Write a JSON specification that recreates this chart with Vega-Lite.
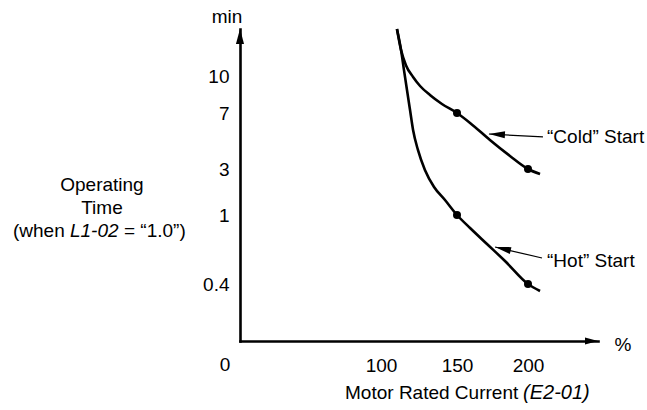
{
  "$schema": "https://vega.github.io/schema/vega-lite/v6.json",
  "width": 407,
  "height": 341,
  "autosize": "none",
  "padding": {"left": 240, "top": 0, "right": 0, "bottom": 69},
  "background": "white",
  "config": {
    "view": {"stroke": null},
    "font": "Liberation Sans",
    "text": {"font": "Liberation Sans", "fontSize": 19, "color": "black"}
  },
  "datasets": {
    "curves": [
      {"curve": "cold", "x": 110.5, "y": 20},
      {"curve": "cold", "x": 113.2, "y": 15.5},
      {"curve": "cold", "x": 116.4, "y": 12.3},
      {"curve": "cold", "x": 121.1, "y": 9.92},
      {"curve": "cold", "x": 125.7, "y": 9.19},
      {"curve": "cold", "x": 132.2, "y": 8.46},
      {"curve": "cold", "x": 140.1, "y": 7.73},
      {"curve": "cold", "x": 150, "y": 7},
      {"curve": "cold", "x": 159.2, "y": 6.29},
      {"curve": "cold", "x": 173.2, "y": 5.07},
      {"curve": "cold", "x": 187.3, "y": 3.93},
      {"curve": "cold", "x": 200, "y": 3},
      {"curve": "cold", "x": 208.6, "y": 2.78},
      {"curve": "hot", "x": 110.5, "y": 20},
      {"curve": "hot", "x": 113.2, "y": 15.5},
      {"curve": "hot", "x": 115.1, "y": 11.3},
      {"curve": "hot", "x": 117.1, "y": 8.86},
      {"curve": "hot", "x": 119.1, "y": 7.24},
      {"curve": "hot", "x": 121.1, "y": 5.79},
      {"curve": "hot", "x": 124.3, "y": 4.36},
      {"curve": "hot", "x": 128.9, "y": 2.96},
      {"curve": "hot", "x": 134.9, "y": 2.22},
      {"curve": "hot", "x": 142.1, "y": 1.65},
      {"curve": "hot", "x": 150, "y": 1},
      {"curve": "hot", "x": 159.2, "y": 0.887},
      {"curve": "hot", "x": 171.1, "y": 0.748},
      {"curve": "hot", "x": 183.8, "y": 0.6},
      {"curve": "hot", "x": 200, "y": 0.4},
      {"curve": "hot", "x": 208.6, "y": 0.351}
    ],
    "dots": [
      {"curve": "cold", "x": 150, "y": 7},
      {"curve": "cold", "x": 200, "y": 3},
      {"curve": "hot", "x": 150, "y": 1},
      {"curve": "hot", "x": 200, "y": 0.4}
    ],
    "leaders": [
      {"curve": "cold", "x": 172.5, "y": 5.5, "x2": 210.7, "y2": 5.29},
      {"curve": "hot", "x": 176.8, "y": 0.722, "x2": 210, "y2": 0.626}
    ],
    "textsCenter": [
      {"label": "min", "x": -9.2, "y": 21.3},
      {"label": "%", "x": 267.9, "y": -0.07},
      {"label": "0", "x": -10.6, "y": -0.21},
      {"label": "Operating", "x": -97.9, "y": 2.04},
      {"label": "Time", "x": -97.9, "y": 1.04}
    ],
    "textsLeft": [
      {"label": "(when", "x": -161, "y": 0.809},
      {"label": "= “1.0”)", "x": -82.3, "y": 0.809},
      {"label": "“Cold” Start", "x": 213.6, "y": 4.86},
      {"label": "“Hot” Start", "x": 213.6, "y": 0.548},
      {"label": "Motor Rated Current", "x": 74.5, "y": -0.407}
    ],
    "textsItalic": [
      {"label": "L1-02", "x": -120.6, "y": 0.809}
    ],
    "titleItalic": [
      {"label": "(E2-01)", "x": 196.5, "y": -0.407}
    ]
  },
  "encoding": {
    "x": {
      "field": "x",
      "type": "quantitative",
      "scale": {"domain": [0, 100, 150, 200, 250], "range": [0, 141, 217, 288, 358], "nice": false, "zero": false},
      "axis": {
        "values": [100, 150, 200],
        "format": "d",
        "title": null,
        "grid": false,
        "ticks": false,
        "tickSize": 0,
        "labelPadding": 15,
        "labelFont": "Liberation Sans",
        "labelFontSize": 19,
        "labelColor": "black",
        "labelFlush": false,
        "labelOverlap": false,
        "domainColor": "black",
        "domainWidth": 2.6,
        "domainCap": "square"
      }
    },
    "y": {
      "field": "y",
      "type": "quantitative",
      "scale": {"domain": [0, 0.4, 1, 3, 7, 10, 20], "range": [341, 284, 215, 169, 113, 76, 29], "nice": false, "zero": false},
      "axis": {
        "values": [0.4, 1, 3, 7, 10],
        "format": "~g",
        "title": null,
        "grid": false,
        "ticks": false,
        "tickSize": 0,
        "labelPadding": 11,
        "labelFont": "Liberation Sans",
        "labelFontSize": 19,
        "labelColor": "black",
        "labelFlush": false,
        "labelOverlap": false,
        "domainColor": "black",
        "domainWidth": 2.6,
        "domainCap": "square"
      }
    }
  },
  "layer": [
    {
      "data": {"name": "curves"},
      "mark": {"type": "line", "color": "black", "strokeWidth": 2.6, "interpolate": "monotone"},
      "encoding": {"detail": {"field": "curve", "type": "nominal"}}
    },
    {
      "data": {"name": "dots"},
      "mark": {"type": "point", "filled": true, "color": "black", "opacity": 1, "size": 64}
    },
    {
      "data": {"name": "leaders"},
      "mark": {"type": "rule", "color": "black", "strokeWidth": 1.2},
      "encoding": {"x2": {"field": "x2"}, "y2": {"field": "y2"}}
    },
    {
      "data": {"name": "leaders"},
      "transform": [{"filter": "datum.curve == 'cold'"}],
      "mark": {"type": "point", "filled": true, "color": "black", "opacity": 1, "shape": "M0,0L1,-0.22L1,0.22Z", "size": 1024, "angle": 3},
      "encoding": {}
    },
    {
      "data": {"name": "leaders"},
      "transform": [{"filter": "datum.curve == 'hot'"}],
      "mark": {"type": "point", "filled": true, "color": "black", "opacity": 1, "shape": "M0,0L1,-0.22L1,0.22Z", "size": 1024, "angle": 13},
      "encoding": {}
    },
    {
      "data": {"values": [{"x": 0, "y": 20}]},
      "mark": {"type": "point", "filled": true, "color": "black", "opacity": 1, "shape": "M0,0L-0.27,1L0.27,1Z", "size": 900}
    },
    {
      "data": {"values": [{"x": 250, "y": 0}]},
      "mark": {"type": "point", "filled": true, "color": "black", "opacity": 1, "shape": "M0,0L-1,-0.27L-1,0.27Z", "size": 676}
    },
    {
      "data": {"name": "textsCenter"},
      "mark": {"type": "text", "align": "center", "baseline": "alphabetic"},
      "encoding": {"text": {"field": "label"}}
    },
    {
      "data": {"name": "textsLeft"},
      "mark": {"type": "text", "align": "left", "baseline": "alphabetic"},
      "encoding": {"text": {"field": "label"}}
    },
    {
      "data": {"name": "textsItalic"},
      "mark": {"type": "text", "align": "left", "baseline": "alphabetic", "fontStyle": "italic"},
      "encoding": {"text": {"field": "label"}}
    },
    {
      "data": {"name": "titleItalic"},
      "mark": {"type": "text", "align": "left", "baseline": "alphabetic", "fontStyle": "italic", "fontSize": 20},
      "encoding": {"text": {"field": "label"}}
    }
  ]
}
